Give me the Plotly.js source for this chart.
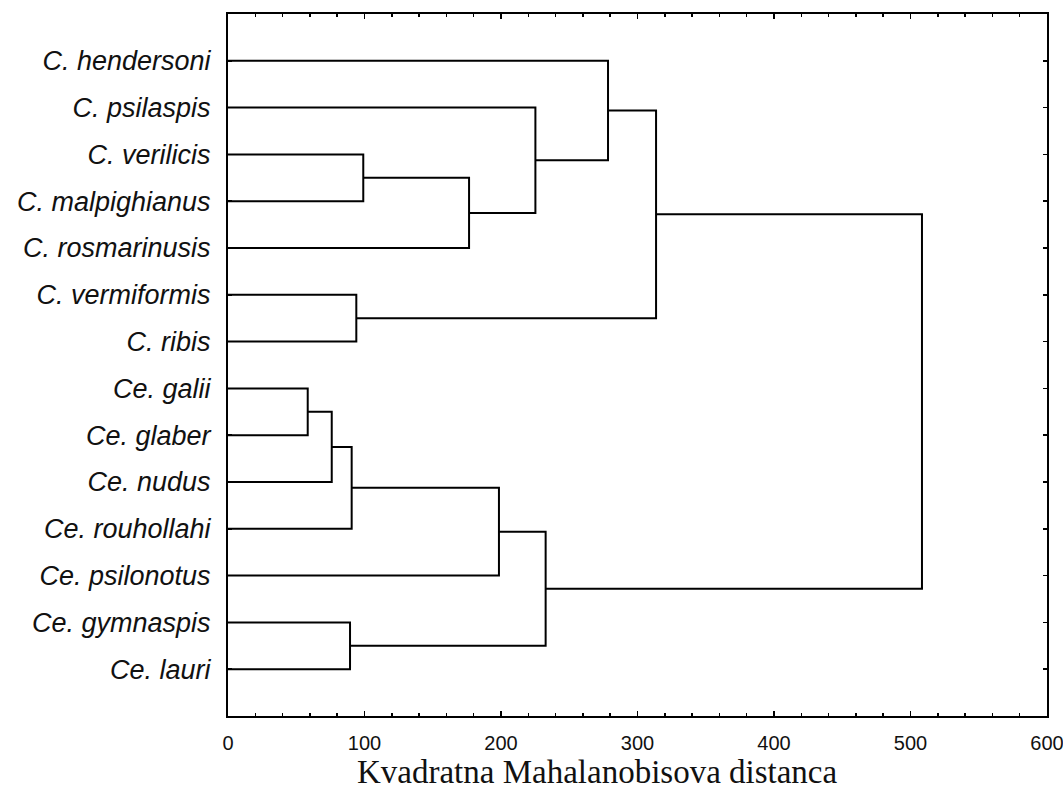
<!DOCTYPE html>
<html>
<head>
<meta charset="utf-8">
<script src="https://cdn.plot.ly/plotly-3.0.1.min.js"></script>
<style>html,body{margin:0;padding:0;background:#fff;}#chart{width:1063px;height:792px;}</style>
</head>
<body>
<div id="chart"></div>
<script>
// Leaves, top to bottom
const leaves = [
  "C. hendersoni", "C. psilaspis", "C. verilicis", "C. malpighianus",
  "C. rosmarinusis", "C. vermiformis", "C. ribis", "Ce. galii",
  "Ce. glaber", "Ce. nudus", "Ce. rouhollahi", "Ce. psilonotus",
  "Ce. gymnaspis", "Ce. lauri"
];
// Merges: node ids 0..13 are leaves, merge k creates node 14+k
const mergeLeft   = [2, 14, 1, 0, 5, 17, 7, 20, 21, 22, 12, 23, 19];
const mergeRight  = [3, 4, 15, 16, 6, 18, 8, 9, 10, 11, 13, 24, 25];
const mergeHeight = [99.1, 176.6, 225.2, 278.4, 94.0, 313.6, 58.4, 76.0, 90.6, 198.5, 89.4, 232.7, 508.4];
const xTicks = [0, 100, 200, 300, 400, 500, 600];
const xTitle = "Kvadratna Mahalanobisova distanca";

// Build node positions through the dendrogram structure
const nodeY = leaves.map((_, i) => i + 1);
const nodeX = leaves.map(() => 0);
const xs = [], ys = [];
for (let k = 0; k < mergeHeight.length; k++) {
  const a = mergeLeft[k], b = mergeRight[k], h = mergeHeight[k];
  xs.push(nodeX[a], h, h, nodeX[b], null);
  ys.push(nodeY[a], nodeY[a], nodeY[b], nodeY[b], null);
  nodeX.push(h);
  nodeY.push((nodeY[a] + nodeY[b]) / 2);
}

const trace = {
  type: 'scatter', mode: 'lines', x: xs, y: ys,
  line: {color: '#000', width: 2}, hoverinfo: 'skip', showlegend: false
};

const layout = {
  width: 1063, height: 792,
  margin: {l: 228, r: 16, t: 14, b: 76},
  paper_bgcolor: '#fff', plot_bgcolor: '#fff',
  showlegend: false,
  xaxis: {
    range: [0, 600], tickvals: xTicks, ticktext: xTicks.map(String),
    ticks: 'inside', ticklen: 5, tickwidth: 1.5, tickcolor: '#000',
    minor: {dtick: 20, ticks: 'inside', ticklen: 3, tickwidth: 1.5, tickcolor: '#000', showgrid: false},
    showline: true, linecolor: '#000', linewidth: 2, mirror: 'allticks',
    showgrid: false, zeroline: false,
    tickfont: {family: 'Liberation Sans, Arial, sans-serif', size: 20, color: '#111'},
    ticklabelstandoff: 8, ticklabeloverflow: 'allow'
  },
  yaxis: {
    range: [15, 0], tickvals: leaves.map((_, i) => i + 1), ticktext: leaves,
    ticks: 'inside', ticklen: 4, tickwidth: 1.5, tickcolor: '#000',
    showline: true, linecolor: '#000', linewidth: 2, mirror: 'ticks',
    showgrid: false, zeroline: false,
    tickfont: {family: 'Liberation Sans, Arial, sans-serif', size: 27, color: '#111', style: 'italic'},
    ticklabelstandoff: 10
  },
  annotations: [{
    text: xTitle, xref: 'paper', yref: 'paper', x: 0.451, y: 0,
    xanchor: 'center', yanchor: 'middle', yshift: -56, showarrow: false,
    font: {family: 'Liberation Serif, Times New Roman, serif', size: 33, color: '#111'}
  }]
};

Plotly.newPlot('chart', [trace], layout, {staticPlot: true, displayModeBar: false});
</script>
</body>
</html>
